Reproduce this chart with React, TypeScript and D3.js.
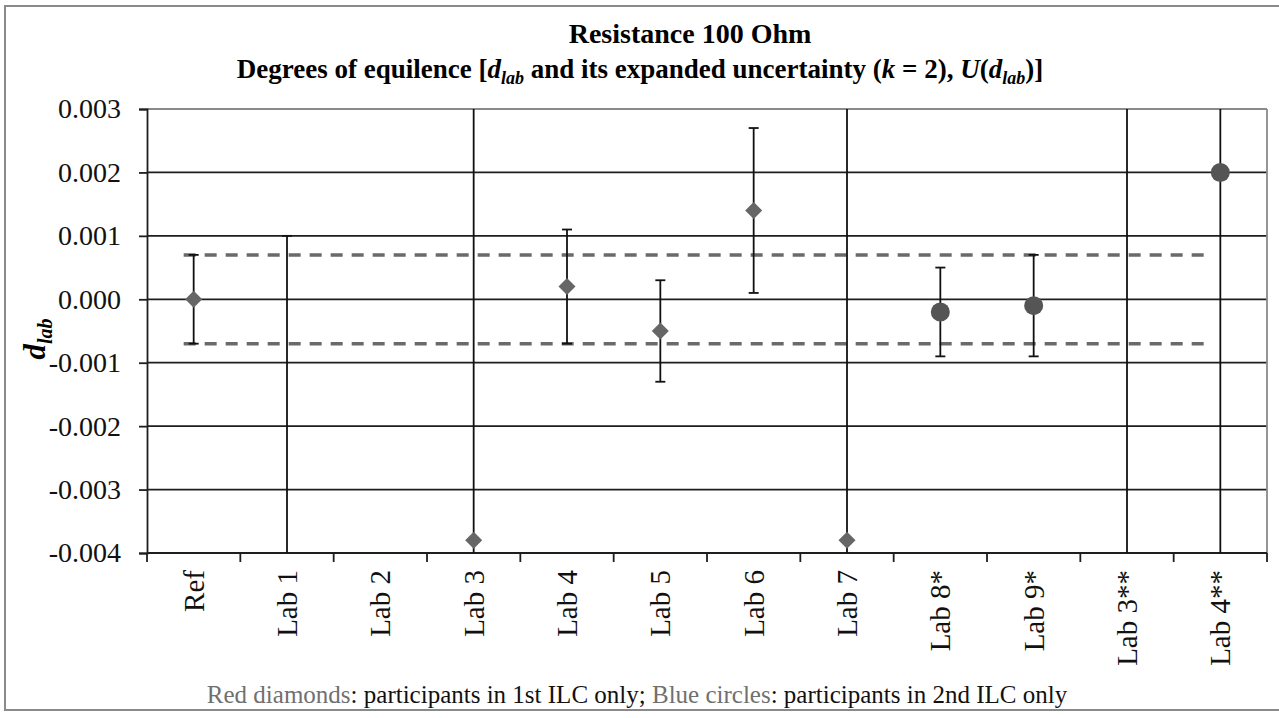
import React, { useEffect, useRef } from "react";
import * as d3 from "d3";

// categories and values
const labs = ["Ref", "Lab 1", "Lab 2", "Lab 3", "Lab 4", "Lab 5", "Lab 6", "Lab 7", "Lab 8*", "Lab 9*", "Lab 3**", "Lab 4**"];
// d_lab values (null = no point), off-scale values fall outside the plot and are clipped
const dlab = [0.0, -0.006, null, -0.0038, 0.0002, -0.0005, 0.0014, -0.0038, -0.0002, -0.0001, -0.007, 0.002];
// expanded uncertainty U(d_lab)
const udlab = [0.0007, 0.007, null, 0.008, 0.0009, 0.0008, 0.0013, 0.008, 0.0007, 0.0008, 0.012, 0.008];
// marker type: d = diamond (1st ILC), c = circle (2nd ILC)
const markers = ["d", "d", "d", "d", "d", "d", "d", "d", "c", "c", "c", "c"];
const refLimit = 0.0007;
const yTicks = [0.003, 0.002, 0.001, 0.0, -0.001, -0.002, -0.003, -0.004];

const SERIF = "'Liberation Serif', 'Times New Roman', Times, serif";

const App = () => {
    const svgRef = useRef(null);

    useEffect(() => {
        const width = 1279, height = 718;
        const left = 147, right = 1267, top = 109, bottom = 553;

        const svg = d3.select(svgRef.current)
            .attr("width", width)
            .attr("height", height)
            .style("font-family", SERIF);

        svg.selectAll("*").remove();

        const x = d3.scaleBand().domain(labs).range([left, right]).padding(0);
        const y = d3.scaleLinear().domain([-0.004, 0.003]).range([bottom, top]);
        const cx = (d) => x(d) + x.bandwidth() / 2;

        // outer frame
        svg.append("rect")
            .attr("x", 5).attr("y", 6).attr("width", 1290).attr("height", 704)
            .attr("fill", "white").attr("stroke", "#8a8a8a").attr("stroke-width", 2);

        // titles
        svg.append("text")
            .attr("x", 690).attr("y", 43)
            .attr("text-anchor", "middle")
            .style("font-family", SERIF)
            .style("font-weight", "700").attr("font-size", 28)
            .text("Resistance 100 Ohm");

        const t2 = svg.append("text")
            .attr("x", 640).attr("y", 78)
            .attr("text-anchor", "middle")
            .style("font-family", SERIF)
            .style("font-weight", "700").attr("font-size", 27);
        t2.append("tspan").text("Degrees of equilence [");
        t2.append("tspan").attr("font-style", "italic").text("d");
        t2.append("tspan").attr("font-style", "italic").attr("font-size", 18).attr("dy", 6).text("lab");
        t2.append("tspan").attr("dy", -6).text(" and its expanded uncertainty (");
        t2.append("tspan").attr("font-style", "italic").text("k");
        t2.append("tspan").text(" = 2), ");
        t2.append("tspan").attr("font-style", "italic").text("U");
        t2.append("tspan").text("(");
        t2.append("tspan").attr("font-style", "italic").text("d");
        t2.append("tspan").attr("font-style", "italic").attr("font-size", 18).attr("dy", 6).text("lab");
        t2.append("tspan").attr("dy", -6).text(")]");

        // clip for off-scale error bars
        svg.append("clipPath").attr("id", "plotclip")
            .append("rect").attr("x", left).attr("y", top).attr("width", right - left).attr("height", bottom - top);

        // horizontal grid lines
        svg.append("g").selectAll("line")
            .data(yTicks)
            .enter().append("line")
            .attr("x1", left).attr("x2", right)
            .attr("y1", d => y(d)).attr("y2", d => y(d))
            .attr("stroke", d => d === 0.003 ? "#8a8a8a" : "#1e1e1e")
            .attr("stroke-width", 1.8);

        // right border
        svg.append("line")
            .attr("x1", right).attr("x2", right).attr("y1", top).attr("y2", bottom)
            .attr("stroke", "#8a8a8a").attr("stroke-width", 1.8);

        // reference limits (dashed)
        svg.append("g").selectAll("line")
            .data([refLimit, -refLimit])
            .enter().append("line")
            .attr("x1", cx(labs[0]) - 10).attr("x2", cx(labs[labs.length - 1]) - 10)
            .attr("y1", d => y(d)).attr("y2", d => y(d))
            .attr("stroke", "#6a6a6a").attr("stroke-width", 3.5)
            .attr("stroke-dasharray", "12,9");

        // y axis
        const yAxis = svg.append("g")
            .attr("transform", `translate(${left},0)`)
            .call(d3.axisLeft(y).tickValues(yTicks).tickSize(8).tickPadding(18));
        yAxis.select(".domain").attr("stroke", "#1e1e1e").attr("stroke-width", 1.8);
        yAxis.selectAll(".tick line").attr("stroke", "#1e1e1e").attr("stroke-width", 1.8);
        yAxis.selectAll(".tick text")
            .attr("font-size", 28).attr("fill", "#111")
            .style("font-family", SERIF)
            .text(d => d3.format(".3f")(d).replace("−", "-"));

        // x axis: ticks at category boundaries
        svg.append("line")
            .attr("x1", left).attr("x2", right).attr("y1", bottom).attr("y2", bottom)
            .attr("stroke", "#1e1e1e").attr("stroke-width", 1.8);
        svg.append("g").selectAll("line")
            .data(labs.concat(["__end"]))
            .enter().append("line")
            .attr("x1", (d, i) => i < labs.length ? x(d) : right)
            .attr("x2", (d, i) => i < labs.length ? x(d) : right)
            .attr("y1", bottom).attr("y2", bottom + 9)
            .attr("stroke", "#1e1e1e").attr("stroke-width", 1.8);

        svg.append("g").selectAll("text")
            .data(labs)
            .enter().append("text")
            .attr("transform", d => `translate(${cx(d) + 10},${bottom + 17}) rotate(-90)`)
            .attr("text-anchor", "end")
            .attr("font-size", 29)
            .attr("fill", "#111")
            .text(d => d);

        // y axis title
        const yt = svg.append("text")
            .attr("transform", `translate(45,${(top + bottom) / 2 + 8}) rotate(-90)`)
            .attr("text-anchor", "middle")
            .style("font-weight", "700").attr("font-style", "italic")
            .attr("font-size", 31);
        yt.append("tspan").text("d");
        yt.append("tspan").attr("font-size", 20).attr("dy", 7).text("lab");

        // error bars
        const pts = labs.map((lab, i) => ({ lab, v: dlab[i], u: udlab[i], m: markers[i] }))
            .filter(d => d.v !== null);

        const eb = svg.append("g").attr("clip-path", "url(#plotclip)");
        eb.selectAll(".stem")
            .data(pts)
            .enter().append("line")
            .attr("x1", d => cx(d.lab)).attr("x2", d => cx(d.lab))
            .attr("y1", d => y(d.v - d.u)).attr("y2", d => y(d.v + d.u))
            .attr("stroke", "#111").attr("stroke-width", 1.8);
        ["lo", "hi"].forEach(k => {
            eb.selectAll(".cap-" + k)
                .data(pts)
                .enter().append("line")
                .attr("x1", d => cx(d.lab) - 5).attr("x2", d => cx(d.lab) + 5)
                .attr("y1", d => y(k === "lo" ? d.v - d.u : d.v + d.u))
                .attr("y2", d => y(k === "lo" ? d.v - d.u : d.v + d.u))
                .attr("stroke", "#111").attr("stroke-width", 1.8);
        });

        // markers
        const mk = svg.append("g").attr("clip-path", "url(#plotclip)");
        const dr = 8.5;
        mk.selectAll("path")
            .data(pts.filter(d => d.m === "d"))
            .enter().append("path")
            .attr("d", `M0,${-dr}L${dr},0L0,${dr}L${-dr},0Z`)
            .attr("transform", d => `translate(${cx(d.lab)},${y(d.v)})`)
            .attr("fill", "#666");
        mk.selectAll("circle")
            .data(pts.filter(d => d.m === "c"))
            .enter().append("circle")
            .attr("cx", d => cx(d.lab)).attr("cy", d => y(d.v))
            .attr("r", 9.5)
            .attr("fill", "#555");

        // footnote
        const ft = svg.append("text")
            .attr("x", 637).attr("y", 703)
            .attr("text-anchor", "middle")
            .attr("font-size", 25)
            .attr("fill", "#111");
        ft.append("tspan").attr("fill", "#707070").text("Red diamonds");
        ft.append("tspan").text(": participants in 1st ILC only; ");
        ft.append("tspan").attr("fill", "#707070").text("Blue circles");
        ft.append("tspan").text(": participants in 2nd ILC only");

    }, []);

    return <svg ref={svgRef} style={{ position: "absolute", left: 0, top: 0 }}></svg>;
};

export default App;
